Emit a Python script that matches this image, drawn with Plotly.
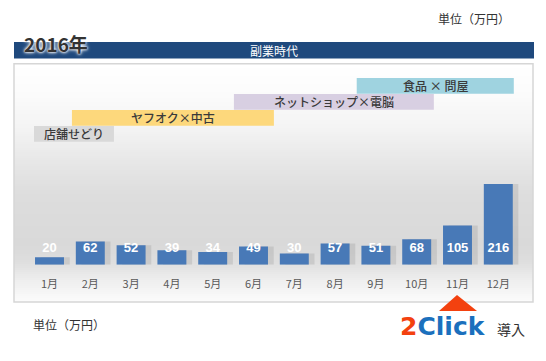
import plotly.graph_objects as go

W, H = 546, 361

months = ["1月", "2月", "3月", "4月", "5月", "6月", "7月", "8月", "9月", "10月", "11月", "12月"]
month_idx = list(range(1, 13))
sales = [20, 62, 52, 39, 34, 49, 30, 57, 51, 68, 105, 216]

phase_names = ["店舗せどり", "ヤフオク×中古", "ネットショップ×電脳", "食品 × 問屋"]
phase_start = [0.62, 1.55, 5.52, 8.53]
phase_end = [2.58, 6.5, 10.42, 12.38]
phase_colors = ["#d9d9d9", "#fdd87c", "#d8cfe2", "#9fd3e0"]

year_label = "2016年"
era_label = "副業時代"
unit_label = "単位（万円）"

JP = "Noto Sans CJK JP"


def px(x):
    return x / W


def py(y):
    return 1 - y / H


# axis geometry (pixels)
x_left_px, x_right_px = 29.1, 518.7
y_base_px, y_top_px = 264.7, 40.0
px_per_unit = 0.3736
y_max = (y_base_px - y_top_px) / px_per_unit
label_y = (y_base_px - 248.3) / px_per_unit

fig = go.Figure()

# faint shadow behind bars
fig.add_trace(go.Bar(
    x=month_idx, y=sales, width=0.71, offset=-0.355 + 0.14,
    marker=dict(color="rgba(60,60,60,0.12)", line=dict(width=0)),
    hoverinfo="skip", showlegend=False,
))
fig.add_trace(go.Bar(
    x=month_idx, y=sales, width=0.71,
    marker=dict(color="#4879b7", line=dict(width=0)),
    showlegend=False,
))
fig.add_trace(go.Scatter(
    x=month_idx, y=[label_y] * len(sales), mode="text",
    text=[str(v) for v in sales], textposition="middle center",
    textfont=dict(family="Liberation Sans", size=13, color="white", weight="bold"),
    hoverinfo="skip", showlegend=False,
))

shapes = []
# background gradient inside box
stops = [(64, 255), (95, 251), (130, 243), (165, 230), (195, 221), (245, 217),
         (262, 222), (280, 238), (302, 252)]


def gray_at(y):
    for (y0, g0), (y1, g1) in zip(stops, stops[1:]):
        if y0 <= y <= y1:
            return g0 + (g1 - g0) * (y - y0) / (y1 - y0)
    return stops[-1][1]


y = 64.0
step = 2.0
while y < 302:
    g = int(round(gray_at(y + step / 2)))
    shapes.append(dict(type="rect", xref="paper", yref="paper", layer="below",
                       x0=px(14), x1=px(533), y0=py(y), y1=py(min(y + step + 0.5, 302)),
                       fillcolor=f"rgb({g},{g},{g})", line=dict(width=0)))
    y += step

# box border
shapes.append(dict(type="rect", xref="paper", yref="paper", layer="below",
                   x0=px(14), x1=px(533), y0=py(302), y1=py(63.7),
                   line=dict(color="#d6d6d6", width=1.5), fillcolor="rgba(0,0,0,0)"))
# dark band
shapes.append(dict(type="rect", xref="paper", yref="paper", layer="below",
                   x0=px(14), x1=px(534), y0=py(58.5), y1=py(42),
                   fillcolor="#1f497d", line=dict(width=0)))
# red triangle pointer
tri = f"M {px(439)} {py(311)} L {px(457)} {py(295)} L {px(477)} {py(311)} Z"
shapes.append(dict(type="path", xref="paper", yref="paper", path=tri,
                   fillcolor="#f3410f", line=dict(width=0)))

annotations = []
# phase bands
band_tops = [126, 110, 94, 78]
for name, s, e, c, top in zip(phase_names, phase_start, phase_end, phase_colors, band_tops):
    shapes.append(dict(type="rect", xref="x", yref="paper", layer="below",
                       x0=s, x1=e, y0=py(top + 15.7), y1=py(top),
                       fillcolor=c, line=dict(width=0)))
    annotations.append(dict(x=(s + e) / 2, y=py(top + 7.9), xref="x", yref="paper",
                            text=name, showarrow=False, xanchor="center", yanchor="middle",
                            font=dict(family=JP, size=12, color="#3a3a3a", weight=500)))

annotations += [
    dict(x=px(274), y=py(50.3), xref="paper", yref="paper", text=era_label, showarrow=False,
         xanchor="center", yanchor="middle", font=dict(family=JP, size=12, color="white")),
    dict(x=px(22), y=py(44), xref="paper", yref="paper", text=year_label, showarrow=False,
         xanchor="left", yanchor="middle",
         font=dict(family=JP, size=19, color="#333333", weight="bold",
                   shadow="0px 0px 2px white, 0px 0px 3px white, 0px 0px 4px white")),
    dict(x=px(512), y=py(19), xref="paper", yref="paper", text=unit_label, showarrow=False,
         xanchor="right", yanchor="middle", font=dict(family=JP, size=12, color="#333333")),
    dict(x=px(31), y=py(324.5), xref="paper", yref="paper", text=unit_label, showarrow=False,
         xanchor="left", yanchor="middle", font=dict(family=JP, size=12, color="#333333")),
    dict(x=px(398), y=py(326.5), xref="paper", yref="paper",
         text="<span style='color:#f3410f'>2</span><span style='color:#1b70bd'>Click</span>",
         showarrow=False, xanchor="left", yanchor="middle",
         font=dict(family="DejaVu Sans", size=25, weight="bold")),
    dict(x=px(495), y=py(329), xref="paper", yref="paper", text="導入", showarrow=False,
         xanchor="left", yanchor="middle", font=dict(family=JP, size=14, color="#333333")),
]

fig.update_layout(
    width=W, height=H, margin=dict(l=0, r=0, t=0, b=0),
    paper_bgcolor="white", plot_bgcolor="rgba(0,0,0,0)",
    barmode="overlay", bargap=0.29,
    shapes=shapes, annotations=annotations,
    xaxis=dict(domain=[px(x_left_px), px(x_right_px)], range=[0.5, 12.5],
               tickmode="array", tickvals=month_idx, ticktext=months,
               ticks="outside", ticklen=9, tickcolor="rgba(0,0,0,0)",
               tickfont=dict(family=JP, size=11, color="#595959"),
               showgrid=False, zeroline=False, showline=False, fixedrange=True),
    yaxis=dict(domain=[py(y_base_px), py(y_top_px)], range=[0, y_max],
               showticklabels=False, showgrid=False, zeroline=False, showline=False,
               fixedrange=True),
    showlegend=False,
)

fig.write_html("out.html", config={"displayModeBar": False},
               post_script="document.body.style.margin='0';")
